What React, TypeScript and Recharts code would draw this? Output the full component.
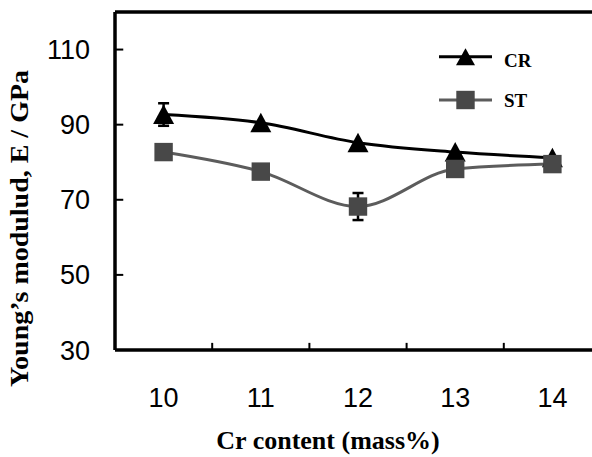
import React from 'react';
import { LineChart, Line, XAxis, YAxis, ErrorBar, ReferenceLine, Legend, Label } from 'recharts';

// ---- data ----
const crContent = [10, 11, 12, 13, 14];
const crSeries = [92.7, 90.5, 85.2, 82.7, 81.2];
const crError = [3.0, 0, 0, 0, 0];
const stSeries = [82.7, 77.5, 68.2, 78.2, 79.5];
const stError = [0, 0, 3.6, 0, 0];
const yTicks = [30, 50, 70, 90, 110];
const xTicks = [10, 11, 12, 13, 14];
const xDividers = [10.5, 11.5, 12.5, 13.5];
const seriesNames = ['CR', 'ST'];
const xTitle = 'Cr content (mass%)';
const yTitle = 'Young’s modulud, E / GPa';

const X_DOMAIN: [number, number] = [9.5, 14.5];
const Y_DOMAIN: [number, number] = [30, 120];
// inward tick mark lengths, in axis units
const X_TICK_LEN = 1.9;
const Y_TICK_LEN = 0.085;

const data = crContent.map((x, i) => ({
  x,
  cr: crSeries[i],
  crErr: crError[i],
  st: stSeries[i],
  stErr: stError[i],
}));

const CR_COLOR = '#000000';
const ST_LINE = '#5c5c5c';
const ST_FILL = '#484848';
const SERIF = '"Liberation Serif", "Times New Roman", serif';
const SANS = '"Liberation Sans", Arial, sans-serif';

const Triangle = (props: any) => {
  const { cx, cy, index } = props;
  if (cx == null || cy == null) return <g key={`t-${index}`} />;
  return (
    <polygon
      key={`t-${index}`}
      points={`${cx},${cy - 10} ${cx + 10.5},${cy + 9.5} ${cx - 10.5},${cy + 9.5}`}
      fill={CR_COLOR}
    />
  );
};

const Square = (props: any) => {
  const { cx, cy, index } = props;
  if (cx == null || cy == null) return <g key={`s-${index}`} />;
  return <rect key={`s-${index}`} x={cx - 9.2} y={cy - 9.2} width={18.4} height={18.4} fill={ST_FILL} />;
};

const renderLegend = (props: any) => {
  const payload = props.payload || [];
  return (
    <svg width={110} height={80} style={{ display: 'block' }}>
      {payload.map((p: any, i: number) => {
        const y = 16.7 + 43.3 * i;
        const isCR = p.dataKey === 'cr';
        return (
          <g key={`lg-${i}`}>
            <line x1={0} x2={53} y1={y} y2={y} stroke={isCR ? CR_COLOR : ST_LINE} strokeWidth={3} />
            {isCR ? (
              <polygon points={`${26.5},${y - 8.5} ${36},${y + 8.5} ${17},${y + 8.5}`} fill={CR_COLOR} />
            ) : (
              <rect x={17.3} y={y - 9.2} width={18.4} height={18.4} fill={ST_FILL} />
            )}
            <text x={65} y={y + (isCR ? 10 : 6.7)} fontFamily={SERIF} fontWeight="bold" fontSize={19} fill="#000">
              {p.value}
            </text>
          </g>
        );
      })}
    </svg>
  );
};

export default function App() {
  return (
    <div
      style={{
        position: 'absolute',
        left: 0,
        top: 0,
        width: 592,
        height: 457,
        overflow: 'hidden',
        background: '#ffffff',
      }}
    >
      <LineChart width={601} height={457} data={data} margin={{ top: 12, right: 0, bottom: 47, left: 0 }}>
        <XAxis
          xAxisId="x"
          dataKey="x"
          type="number"
          domain={X_DOMAIN}
          ticks={xTicks}
          interval={0}
          allowDataOverflow
          height={60}
          axisLine={{ stroke: '#000', strokeWidth: 3.5 }}
          tickLine={false}
          tickSize={0}
          tickMargin={38}
          tick={{ fontSize: 27, fill: '#000', fontFamily: SANS }}
        >
          <Label
            content={() => (
              <text x={328} y={449} textAnchor="middle" fontFamily={SERIF} fontWeight="bold" fontSize={26} fill="#000">
                {xTitle}
              </text>
            )}
          />
        </XAxis>
        <YAxis
          type="number"
          domain={Y_DOMAIN}
          ticks={yTicks}
          interval={0}
          allowDataOverflow
          width={115}
          axisLine={{ stroke: '#000', strokeWidth: 3.5 }}
          tickLine={false}
          tickSize={-8}
          tickMargin={33}
          tick={{ fontSize: 27, fill: '#000', fontFamily: SANS }}
        >
          <Label
            content={() => (
              <text
                transform="translate(28,228.5) rotate(-90)"
                textAnchor="middle"
                fontFamily={SERIF}
                fontWeight="bold"
                fontSize={26}
                textLength={317}
                lengthAdjust="spacingAndGlyphs"
                fill="#000"
              >
                {yTitle}
              </text>
            )}
          />
        </YAxis>
        <ReferenceLine xAxisId="x" y={Y_DOMAIN[1]} stroke="#000" strokeWidth={3.5} ifOverflow="visible" />
        {xDividers.map((d) => (
          <ReferenceLine
            key={`xd-${d}`}
            xAxisId="x"
            segment={[
              { x: d, y: Y_DOMAIN[0] },
              { x: d, y: Y_DOMAIN[0] + X_TICK_LEN },
            ]}
            stroke="#000"
            strokeWidth={2}
            ifOverflow="visible"
          />
        ))}
        {yTicks.slice(1).map((t) => (
          <ReferenceLine
            key={`yt-${t}`}
            xAxisId="x"
            segment={[
              { x: X_DOMAIN[0], y: t },
              { x: X_DOMAIN[0] + Y_TICK_LEN, y: t },
            ]}
            stroke="#000"
            strokeWidth={2}
            ifOverflow="visible"
          />
        ))}
        <Legend
          layout="vertical"
          align="center"
          verticalAlign="middle"
          content={renderLegend}
          wrapperStyle={{ left: 439, top: 40, width: 110, height: 80 }}
        />
        <Line
          xAxisId="x"
          name={seriesNames[0]}
          dataKey="cr"
          type="monotone"
          stroke={CR_COLOR}
          strokeWidth={3}
          dot={Triangle}
          activeDot={false}
          isAnimationActive={false}
        >
          <ErrorBar dataKey="crErr" direction="y" width={5.5} stroke="#000" strokeWidth={2.5} />
        </Line>
        <Line
          xAxisId="x"
          name={seriesNames[1]}
          dataKey="st"
          type="monotone"
          stroke={ST_LINE}
          strokeWidth={3}
          dot={Square}
          activeDot={false}
          isAnimationActive={false}
        >
          <ErrorBar dataKey="stErr" direction="y" width={5.5} stroke="#000" strokeWidth={2.5} />
        </Line>
      </LineChart>
    </div>
  );
}
